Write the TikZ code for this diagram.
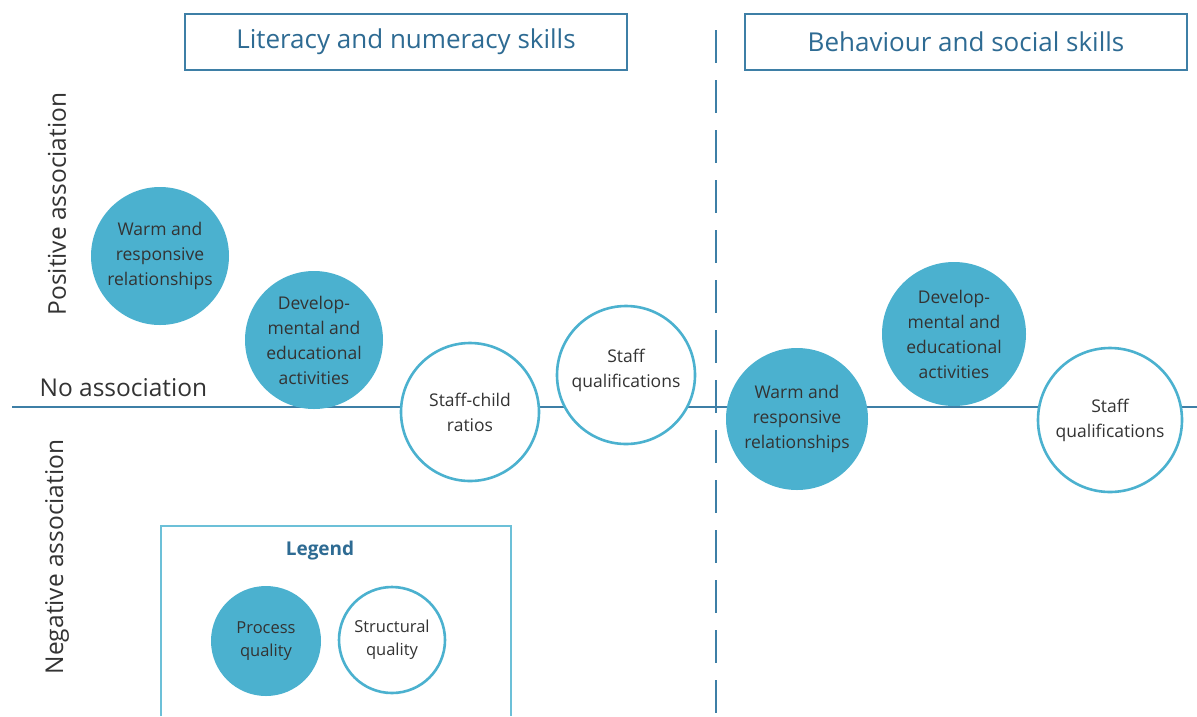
\documentclass[tikz,border=0pt]{standalone}
\usepackage{fontspec}
\setmainfont{Open Sans}
\definecolor{cfill}{HTML}{4BB1CF}
\definecolor{cline}{HTML}{3E7FA6}
\definecolor{ctitle}{HTML}{2E6B93}
\definecolor{ctext}{HTML}{333333}
\definecolor{clegend}{HTML}{6CC0D8}
\begin{document}
\begin{tikzpicture}[x=1pt,y=-1pt,
  proc/.style={circle,fill=cfill,draw=cfill,line width=2pt,inner sep=0pt,align=center,text=ctext,font=\fontsize{17.5}{25}\selectfont},
  struc/.style={circle,fill=white,draw=cfill,line width=2.6pt,inner sep=0pt,align=center,text=ctext,font=\fontsize{17.5}{25}\selectfont},
  small/.style={font=\fontsize{16.5}{23}\selectfont},
  titlebox/.style={draw=cline,line width=1.2pt,minimum width=442pt,minimum height=56pt,text=ctitle,font=\fontsize{26}{30}\selectfont},
  axislabel/.style={text=ctext,font=\fontsize{24.5}{28}\selectfont}]
\useasboundingbox (0,0) rectangle (1197,716);
\fill[white] (0,0) rectangle (1197,716);
% titles
\node[titlebox] (t1) at (406,42) {Literacy and numeracy skills};
\node[titlebox] (t2) at (966,42) {Behaviour and social skills};
% axes
\coordinate (hl) at (12,407);
\coordinate (hr) at (1197,407);
\coordinate (vt) at (716,30);
\coordinate (vb) at (716,716);
\draw[cline,line width=2pt] (hl) -- (hr);
\draw[cline,line width=2pt,dash pattern=on 33pt off 17pt] (vt) -- (vb);
% axis labels
\node[axislabel,anchor=south west] (na) at (36,400) {No association};
\node[axislabel,rotate=90] (pa) at (57,204) {Positive association};
\node[axislabel,rotate=90] (ng) at (57,557) {Negative association};
% left circles
\node[proc,minimum size=136pt] (w1) at (160,256) {Warm and\\responsive\\relationships};
\node[proc,minimum size=136pt] (d1) at (314,340) {Develop-\\mental and\\educational\\activities};
\node[struc,minimum size=138pt] (s1) at (470,412) {Staff-child\\ratios};
\node[struc,minimum size=138pt] (q1) at (626,375) {Staff\\qualifications\\[-12pt]};
% right circles
\node[proc,minimum size=140pt] (w2) at (797,419) {Warm and\\responsive\\relationships};
\node[proc,minimum size=142pt] (d2) at (954,334) {Develop-\\mental and\\educational\\activities};
\node[struc,minimum size=144pt] (q2) at (1110,420) {Staff\\qualifications};
% legend
\coordinate (lg1) at (161,716);
\coordinate (lg2) at (161,526);
\coordinate (lg3) at (511,526);
\coordinate (lg4) at (511,716);
\draw[clegend,line width=1.5pt] (lg1) -- (lg2) -- (lg3) -- (lg4);
\node[text=ctitle,font=\bfseries\fontsize{19}{22}\selectfont] (lt) at (320,551) {Legend};
\node[proc,small,minimum size=108pt] (lp) at (266,641) {Process\\quality};
\node[struc,small,minimum size=106pt] (ls) at (392,640) {Structural\\quality};
\end{tikzpicture}
\end{document}
